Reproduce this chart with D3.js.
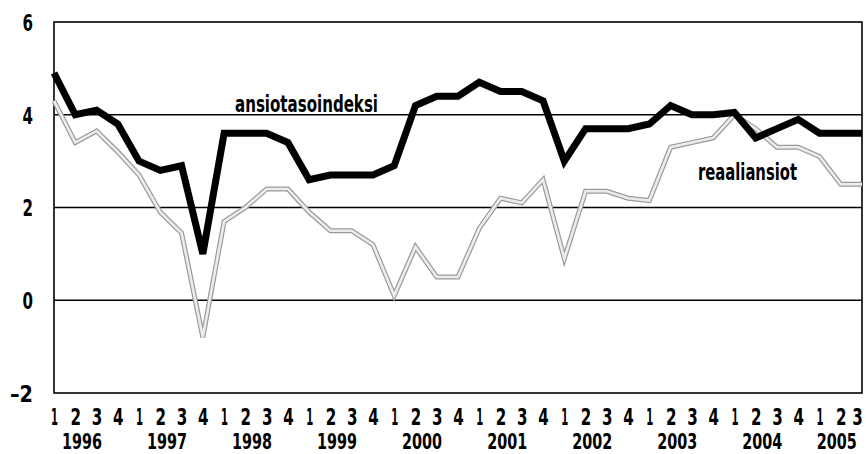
<!DOCTYPE html>
<html><head><meta charset="utf-8">
<script src="https://cdn.jsdelivr.net/npm/d3@7"></script>
<style>
body{margin:0;background:#fff;}
text{font-family:"DejaVu Sans Condensed","Liberation Sans Narrow","DejaVu Sans",sans-serif;font-weight:bold;fill:#000;}
</style></head>
<body><svg id="c" width="866" height="454"></svg>
<script>
const years = ["1996","1997","1998","1999","2000","2001","2002","2003","2004","2005"];
const quarterLabels = ["1","2","3","4"];
const ansiotasoindeksi = [4.9,4.0,4.1,3.8, 3.0,2.8,2.9,1.0, 3.6,3.6,3.6,3.4, 2.6,2.7,2.7,2.7,
  2.9,4.2,4.4,4.4, 4.7,4.5,4.5,4.3, 3.0,3.7,3.7,3.7, 3.8,4.2,4.0,4.0, 4.05,3.5,3.7,3.9, 3.6,3.6,3.6];
const reaaliansiot = [4.3,3.4,3.65,3.2, 2.7,1.9,1.45,-0.8, 1.7,2.0,2.4,2.4, 1.9,1.5,1.5,1.2,
  0.1,1.15,0.5,0.5, 1.55,2.2,2.1,2.6, 0.9,2.35,2.35,2.2, 2.15,3.3,3.4,3.5, 4.0,3.7,3.3,3.3, 3.1,2.5,2.5];
const yTicks = [-2,0,2,4,6];
const gridValues = [0,2,4];
const seriesNames = ["ansiotasoindeksi","reaaliansiot"];

const svg = d3.select("#c");
const L=54, R=862, T=22, B=393;
const n = ansiotasoindeksi.length;
const x = d3.scaleLinear().domain([0,n-1]).range([L,R]);
const y = d3.scaleLinear().domain([-2,6]).range([B,T]);
const FS = 23, DIGW = 10.5;

// gridlines
svg.append("g").selectAll("line").data(gridValues).join("line")
  .attr("x1",L).attr("x2",R).attr("y1",d=>y(d)).attr("y2",d=>y(d))
  .attr("stroke","#000").attr("stroke-width",1.6);

// frame
svg.append("rect").attr("x",L).attr("y",T).attr("width",R-L).attr("height",B-T)
  .attr("fill","none").attr("stroke","#000").attr("stroke-width",1.6);

// y axis labels
const yAxis = d3.axisLeft(y).tickValues(yTicks).tickSize(0).tickPadding(0)
  .tickFormat(d=> d<0 ? "\u2013"+Math.abs(d) : d);
const ya = svg.append("g").attr("transform",`translate(${L-21},0)`).call(yAxis);
ya.select(".domain").remove();
ya.selectAll("text").attr("font-size",FS).attr("text-anchor","end")
  .attr("font-family",null).attr("dy","0.36em")
  .attr("lengthAdjust","spacingAndGlyphs")
  .attr("textLength",d=> d<0 ? 23 : DIGW);

// x quarter labels
const qIdx = d3.range(n);
const xAxis = d3.axisBottom(x).tickValues(qIdx).tickSize(0).tickPadding(0)
  .tickFormat(i=>quarterLabels[i%4]);
const xa = svg.append("g").attr("transform",`translate(0,${B})`).call(xAxis);
xa.select(".domain").remove();
xa.selectAll("text").attr("font-size",FS).attr("font-family",null)
  .attr("y",32).attr("dy",null)
  .attr("x",i=> i===n-1 ? -5 : 0)
  .attr("lengthAdjust","spacingAndGlyphs")
  .attr("textLength",i=> i%4===0 ? 7 : DIGW);

// year labels (condensed with a horizontal scale)
const last = years.length-1;
svg.append("g").selectAll("text").data(years).join("text")
  .attr("text-anchor","middle").attr("font-size",22)
  .text(d=>d)
  .each(function(d,i){
    const w = this.getComputedTextLength();
    const s = 40 / w;
    const cx = i<last ? x(i*4+1.5) - 4 : x(i*4+1) - 4;
    d3.select(this).attr("x",0).attr("y",0)
      .attr("transform",`translate(${cx},448.5) scale(${s},1)`);
  });

const line = d3.line().x((d,i)=>x(i)).y(d=>y(d)).curve(d3.curveLinear);

// reaaliansiot: hollow gray double line
svg.append("path").datum(reaaliansiot).attr("d",line).attr("fill","none")
  .attr("stroke","#9a9a9a").attr("stroke-width",5).attr("stroke-linejoin","miter");
svg.append("path").datum(reaaliansiot).attr("d",line).attr("fill","none")
  .attr("stroke","#ececec").attr("stroke-width",2.6).attr("stroke-linejoin","miter");

// ansiotasoindeksi: thick black
svg.append("path").datum(ansiotasoindeksi).attr("d",line).attr("fill","none")
  .attr("stroke","#000").attr("stroke-width",7).attr("stroke-linejoin","miter");

// series labels
svg.append("text").attr("x",235).attr("y",112).attr("font-size",23)
  .attr("textLength",143).attr("lengthAdjust","spacingAndGlyphs").text(seriesNames[0]);
svg.append("text").attr("x",698).attr("y",180).attr("font-size",23)
  .attr("textLength",99).attr("lengthAdjust","spacingAndGlyphs").text(seriesNames[1]);
</script></body></html>
